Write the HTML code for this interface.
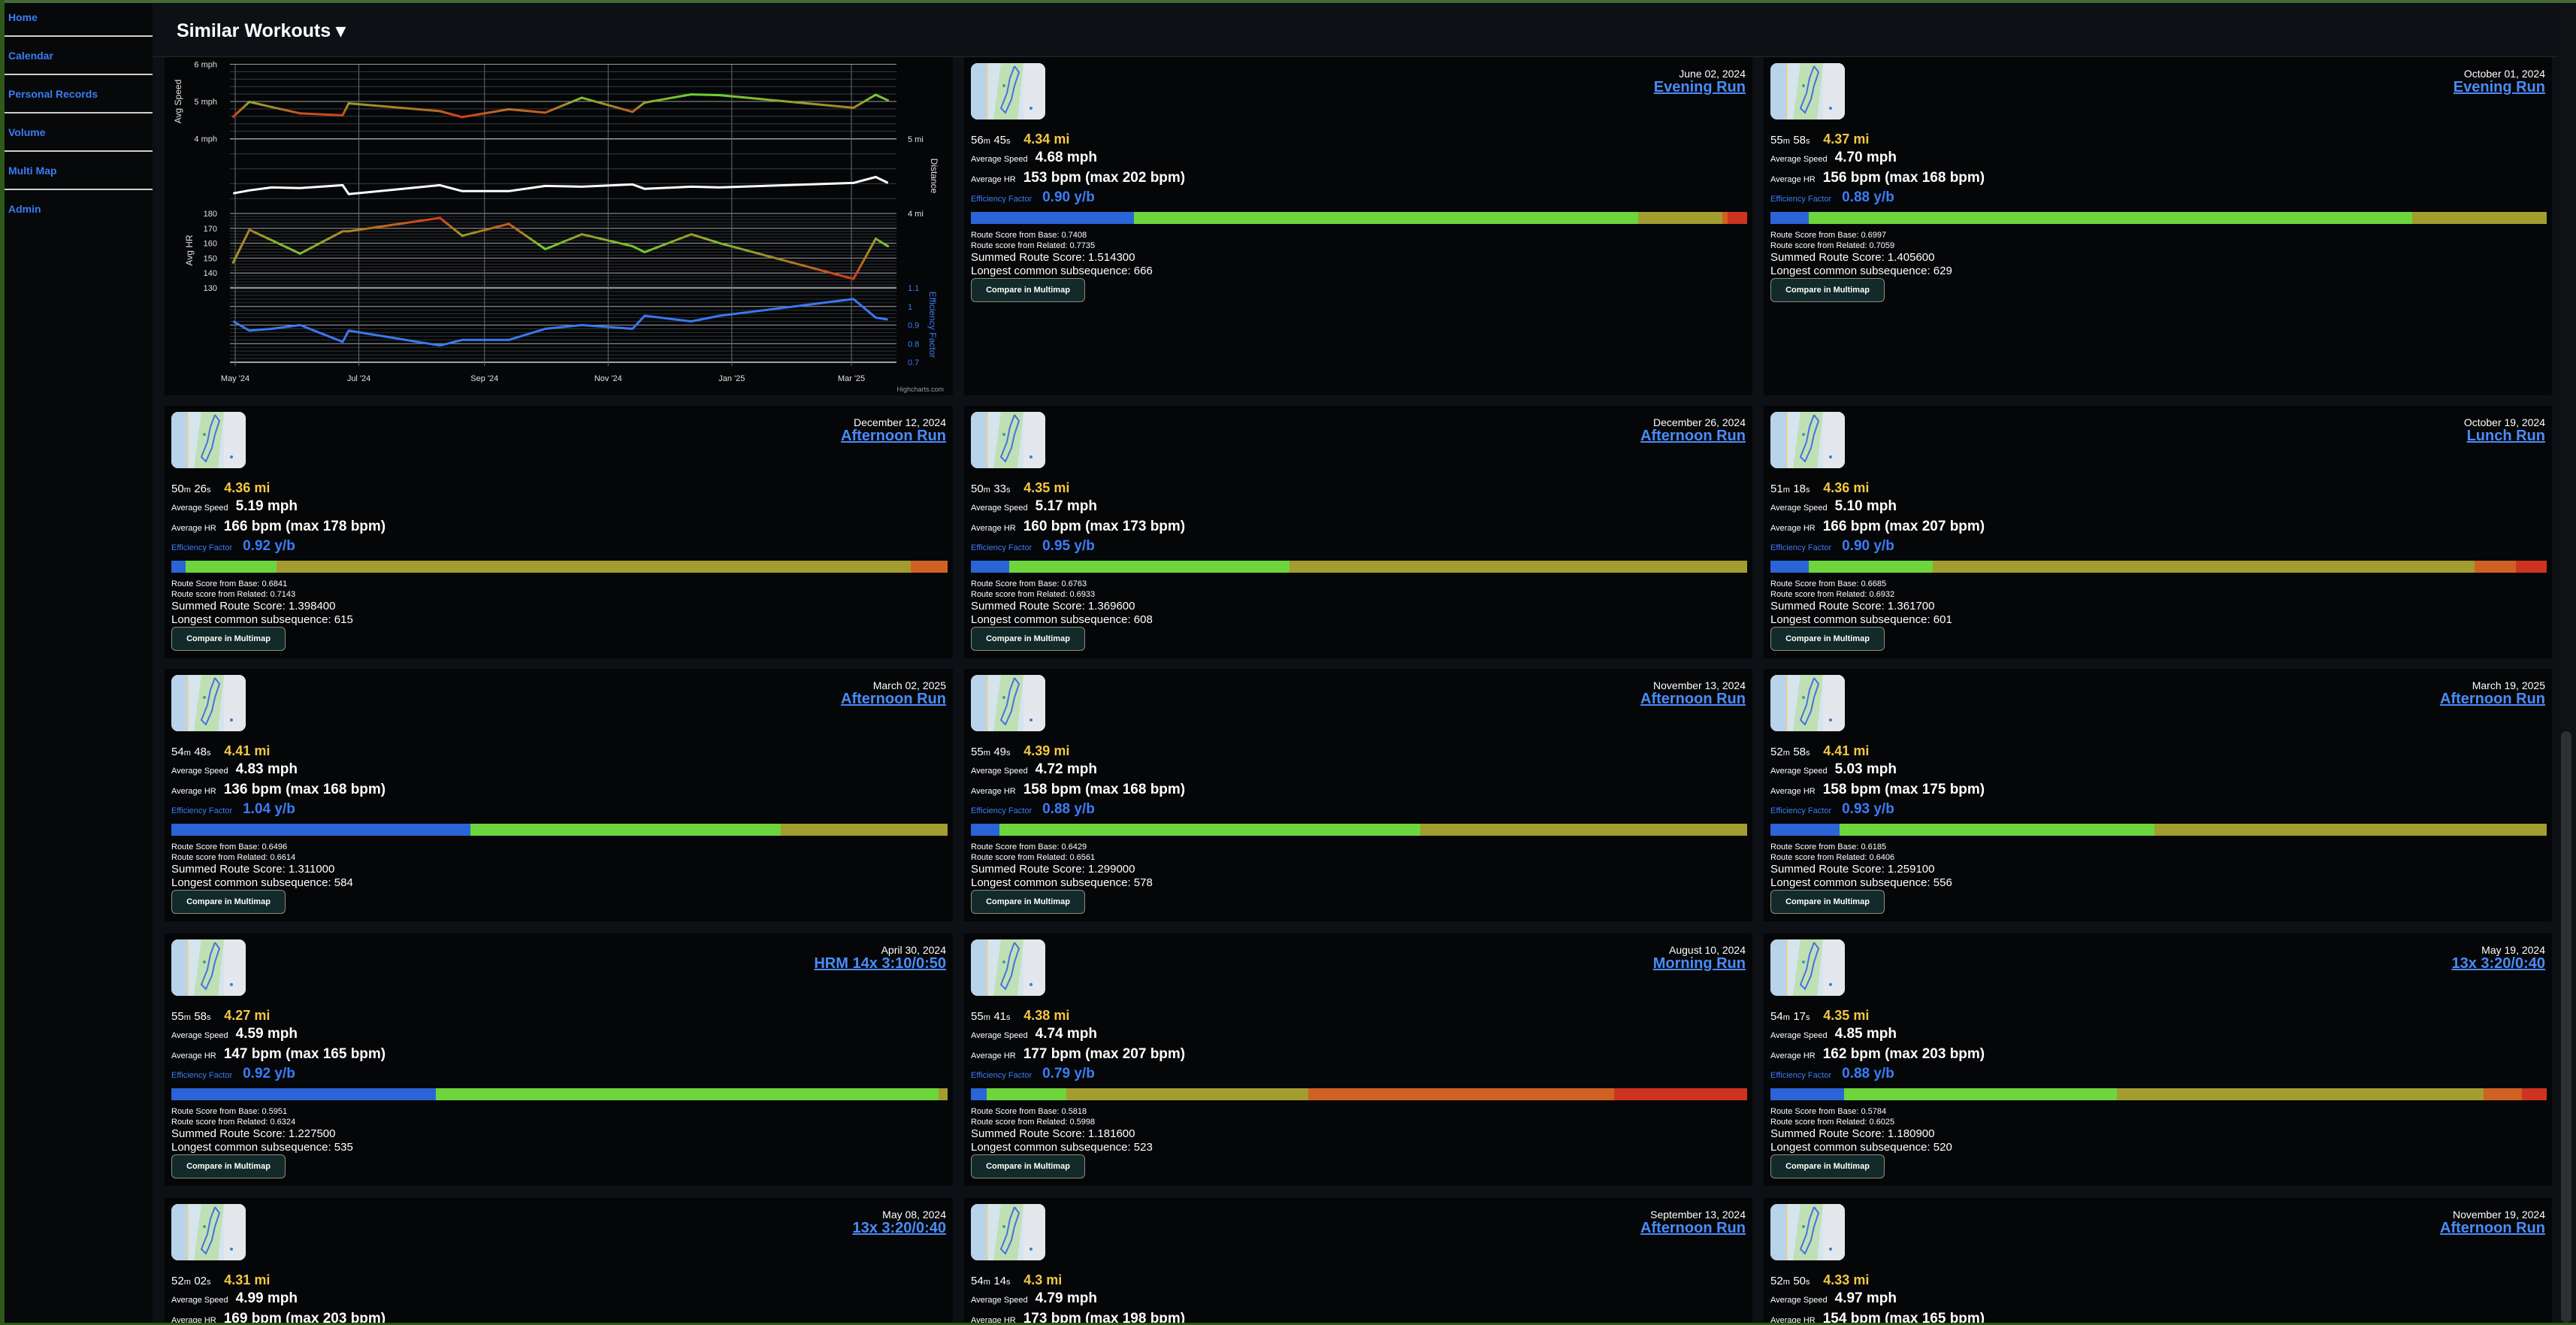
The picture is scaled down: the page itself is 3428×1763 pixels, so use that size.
<!DOCTYPE html>
<html style="width:3428px;height:1763px;overflow:hidden"><head><meta charset="utf-8">
<style>
*{box-sizing:border-box;margin:0;padding:0}
html,body{overflow:hidden}
body{width:3428px;height:1763px;overflow:hidden;background:#0d1014;font-family:"Liberation Sans",sans-serif;position:relative;color:#fff}
#frame-top{position:absolute;left:0;top:0;width:3428px;height:4px;background:#456a3a}
#frame-left{position:absolute;left:0;top:0;width:6px;height:1763px;background:#2d5a1a}
#frame-bottom{position:absolute;left:0;top:1760px;width:3428px;height:3px;background:#2d5a14}
#sidebar{position:absolute;left:6px;top:4px;width:197px;height:1756px;background:#070809}
.nav{position:absolute;left:5px;font-size:14px;font-weight:bold;color:#3b7cf5;text-decoration:none}
.sep{position:absolute;left:0;width:197px;height:2px;background:#cfcfcf}
#header{position:absolute;left:235px;top:26px;font-size:25px;font-weight:bold;color:#fff}
#header-line{position:absolute;left:203px;top:75px;width:3200px;height:1px;background:#24282c}
.card{position:absolute;background:#050608;overflow:hidden}
.thumb{position:absolute;left:9px;top:8px;width:99px;height:75px;border-radius:9px;overflow:hidden}
.date{position:absolute;right:9px;top:14px;font-size:14px;color:#fff}
.title{position:absolute;right:9px;top:29px;font-size:20px;font-weight:bold;color:#4a8cf7;text-decoration:underline}
.row{position:absolute;left:9px;white-space:nowrap}
.lbl{font-size:11px;color:#fff;margin-right:10px}
.val{font-size:19px;font-weight:bold;color:#fff}
.bar{position:absolute;left:9px;right:7px;top:206px;height:16px;display:flex}
.bar div{height:16px}
.small{position:absolute;left:9px;font-size:11px;color:#fff}
.mid{position:absolute;left:9px;font-size:15px;color:#fff}
.btn{position:absolute;left:9px;top:294px;width:152px;height:32px;background:#132a2a;border:1px solid #8a8a80;border-radius:6px;font-size:11px;font-weight:bold;color:#fff;display:flex;align-items:center;justify-content:center}
.clip{position:absolute;left:9px;top:150px;width:600px;height:16px;overflow:hidden}
#scroll-track{position:absolute;left:3404px;top:4px;width:24px;height:1756px;background:#0f1113}
#scroll-thumb{position:absolute;left:3408px;top:973px;width:14px;height:787px;background:#2c2f33;border-radius:7px}
</style></head>
<body>
<div id="frame-top"></div>
<div id="frame-left"></div>
<div id="sidebar">
  <a class="nav" style="top:11px">Home</a>
  <div class="sep" style="top:43px"></div>
  <a class="nav" style="top:62px">Calendar</a>
  <div class="sep" style="top:94px"></div>
  <a class="nav" style="top:113px">Personal Records</a>
  <div class="sep" style="top:145px"></div>
  <a class="nav" style="top:164px">Volume</a>
  <div class="sep" style="top:196px"></div>
  <a class="nav" style="top:215px">Multi Map</a>
  <div class="sep" style="top:247px"></div>
  <a class="nav" style="top:266px">Admin</a>
</div>
<div id="header">Similar Workouts ▾</div>
<div id="header-line"></div>

<div class="card" id="chart-card" style="left:219px;top:76px;width:1049px;height:450px">
<svg id="chart" width="1049" height="450" xmlns="http://www.w3.org/2000/svg"><g id="cg" transform="translate(-219,-76)"></g></svg>
</div>

<div id="cards"></div>
<div id="scroll-track"></div>
<div id="scroll-thumb"></div>
<div id="frame-bottom"></div>

<script>
// ---- chart data ----
const dates = ['2024-04-30','2024-05-08','2024-05-19','2024-06-02','2024-06-23','2024-06-26','2024-08-10','2024-08-21','2024-09-13','2024-10-01','2024-10-19','2024-11-13','2024-11-19','2024-12-12','2024-12-26','2025-03-02','2025-03-13','2025-03-19'];
const speedVals = [4.59,4.99,4.85,4.68,4.63,4.95,4.74,4.58,4.79,4.70,5.10,4.72,4.97,5.19,5.17,4.83,5.18,5.03];
const distVals = [4.27,4.31,4.35,4.34,4.38,4.26,4.38,4.30,4.30,4.37,4.36,4.39,4.33,4.36,4.35,4.41,4.49,4.41];
const hrVals = [147,169,162,153,168,168,177,165,173,156,166,158,154,166,160,136,163,158];
const efVals = [0.92,0.87,0.88,0.90,0.81,0.87,0.79,0.82,0.82,0.88,0.90,0.88,0.95,0.92,0.95,1.04,0.94,0.93];
const xTickDates = ['2024-05-01','2024-07-01','2024-09-01','2024-11-01','2025-01-01','2025-03-01'];
const xTickLabels = ["May '24","Jul '24","Sep '24","Nov '24","Jan '25","Mar '25"];
const speedTicks = [6,5,4];
const speedTickLabels = ['6 mph','5 mph','4 mph'];
const distTicks = [5,4];
const distTickLabels = ['5 mi','4 mi'];
const hrTicks = [180,170,160,150,140,130];
const efTicks = [1.1,1.0,0.9,0.8,0.7];
const efTickLabels = ['1.1','1','0.9','0.8','0.7'];

const NS='http://www.w3.org/2000/svg';
const g=document.getElementById('cg');
const T0=Date.UTC(2024,4,1), T1=Date.UTC(2025,2,1);
function ms(s){const p=s.split('-');return Date.UTC(+p[0],p[1]-1,+p[2]);}
function xS(s){return 313+(ms(s)-T0)/(T1-T0)*820;}
function ySp(v){return 135-(v-5)*49.5;}
function yDi(v){return 185-(v-5)*99;}
function yHr(v){return 284+(180-v)*1.98;}
function yEf(v){return 383+(1.1-v)*247.5;}
const PL=306, PR=1193;
function el(tag,attrs){const e=document.createElementNS(NS,tag);for(const k in attrs)e.setAttribute(k,attrs[k]);g.appendChild(e);return e;}
function hline(y,col,w){const l=el('line',{x1:PL,x2:PR,y1:y,y2:y,stroke:col,'stroke-width':w});

}
for(let v=6;v>4.01;v-=0.2)hline(ySp(v),'#3a3d40',1);
for(let v=5;v>4.01;v-=0.2)hline(yDi(v),'#3a3d40',1);
for(let v=180;v>130;v-=2)hline(yHr(v),'#303336',1);
for(let v=1.1;v>0.7;v-=0.02)hline(yEf(v),'#303336',1);
speedTicks.forEach(v=>hline(ySp(v),'#9a9da0',1));
distTicks.forEach(v=>hline(yDi(v),'#9a9da0',1));
hrTicks.forEach(v=>hline(yHr(v),'#9a9da0',1));
efTicks.forEach(v=>hline(yEf(v),'#9a9da0',1));
hline(yHr(130),'#8a8d90',2.5);
hline(yEf(0.7),'#cfd2d4',1.5);
xTickDates.forEach((d,i)=>{
  const x=xS(d);
  const l=el('line',{x1:x,x2:x,y1:86,y2:487,stroke:'#6a6d70','stroke-width':1});
  
  
  const t=el('text',{x:x,y:507,'font-size':11,fill:'#e0e0e0','text-anchor':'middle','font-family':'Liberation Sans, sans-serif'});
  t.textContent=xTickLabels[i];
  
  
});
function label(x,y,txt,anchor,col,name){const t=el('text',{x:x,y:y+4,'font-size':11,fill:col,'text-anchor':anchor,'font-family':'Liberation Sans, sans-serif'});t.textContent=txt;

}
speedTicks.forEach((v,i)=>label(289,ySp(v),speedTickLabels[i],'end','#e0e0e0','speed-tick-label'));
distTicks.forEach((v,i)=>label(1208,yDi(v),distTickLabels[i],'start','#e0e0e0','distance-tick-label'));
hrTicks.forEach(v=>label(289,yHr(v),String(v),'end','#e0e0e0','hr-tick-label'));
efTicks.forEach((v,i)=>label(1208,yEf(v),efTickLabels[i],'start','#3b7cf5','ef-tick-label'));
function title(x,y,rot,txt,col,name){const t=el('text',{x:0,y:0,'font-size':12,fill:col,'text-anchor':'middle',transform:`translate(${x},${y}) rotate(${rot})`,'font-family':'Liberation Sans, sans-serif'});t.textContent=txt;

}
title(241,135,-90,'Avg Speed','#e0e0e0','speed-axis-title');
title(256,333,-90,'Avg HR','#e0e0e0','hr-axis-title');
title(1239,234,90,'Distance','#e0e0e0','distance-axis-title');
title(1237,432,90,'Efficiency Factor','#3b7cf5','ef-axis-title');
const hc=el('text',{x:1256,y:521,'font-size':9,fill:'#999','text-anchor':'end','font-family':'Liberation Sans, sans-serif'});hc.textContent='Highcharts.com';


function mix(t){t=Math.max(0,Math.min(1,t));const a=[215,58,26],b=[160,150,40],c=[104,212,50];let r;
 if(t<0.5){const u=t*2;r=a.map((v,i)=>v+(b[i]-v)*u);}else{const u=(t-0.5)*2;r=b.map((v,i)=>v+(c[i]-v)*u);}
 return `rgb(${r.map(Math.round).join(',')})`;}
const defs=el('defs',{});
let gid=0;
function gradLine(vals,yf,cf,name){
  for(let i=0;i<vals.length-1;i++){
    const x1=xS(dates[i]),x2=xS(dates[i+1]),y1=yf(vals[i]),y2=yf(vals[i+1]);
    const id='gr'+(gid++);
    const lg=document.createElementNS(NS,'linearGradient');
    lg.setAttribute('id',id);lg.setAttribute('gradientUnits','userSpaceOnUse');
    lg.setAttribute('x1',x1);lg.setAttribute('y1',y1);lg.setAttribute('x2',x2);lg.setAttribute('y2',y2);
    const s1=document.createElementNS(NS,'stop');s1.setAttribute('offset','0');s1.setAttribute('stop-color',cf(vals[i]));
    const s2=document.createElementNS(NS,'stop');s2.setAttribute('offset','1');s2.setAttribute('stop-color',cf(vals[i+1]));
    lg.appendChild(s1);lg.appendChild(s2);defs.appendChild(lg);
    const l=el('line',{x1:x1,y1:y1,x2:x2,y2:y2,stroke:`url(#${id})`,'stroke-width':3,'stroke-linecap':'round'});
    
    
  }
}
function polyline(vals,yf,col,name){
  const pts=vals.map((v,i)=>xS(dates[i]).toFixed(1)+','+yf(v).toFixed(1)).join(' ');
  const p=el('polyline',{points:pts,fill:'none',stroke:col,'stroke-width':3,'stroke-linejoin':'round'});
  
  
}
gradLine(speedVals,ySp,v=>mix((v-4.6)/0.6),'speed-series-segment');
polyline(distVals,yDi,'#ffffff','distance-series');
gradLine(hrVals,yHr,v=>mix(1-Math.abs(v-156)/20),'hr-series-segment');
polyline(efVals,yEf,'#3a78f0','ef-series');

// ---- cards ----
const cards=[
{d:'June 02, 2024',t:'Evening Run',tm:['56','45'],mi:'4.34',sp:'4.68',hr:'153',mx:'202',ef:'0.90',bar:[21,65,10.8,0.7,2.5],b:'0.7408',r:'0.7735',s:'1.514300',l:'666'},
{d:'October 01, 2024',t:'Evening Run',tm:['55','58'],mi:'4.37',sp:'4.70',hr:'156',mx:'168',ef:'0.88',bar:[4.9,77.8,17.3,0,0],b:'0.6997',r:'0.7059',s:'1.405600',l:'629'},
{d:'December 12, 2024',t:'Afternoon Run',tm:['50','26'],mi:'4.36',sp:'5.19',hr:'166',mx:'178',ef:'0.92',bar:[1.8,11.8,81.7,4.7,0],b:'0.6841',r:'0.7143',s:'1.398400',l:'615'},
{d:'December 26, 2024',t:'Afternoon Run',tm:['50','33'],mi:'4.35',sp:'5.17',hr:'160',mx:'173',ef:'0.95',bar:[4.9,36.1,59,0,0],b:'0.6763',r:'0.6933',s:'1.369600',l:'608'},
{d:'October 19, 2024',t:'Lunch Run',tm:['51','18'],mi:'4.36',sp:'5.10',hr:'166',mx:'207',ef:'0.90',bar:[4.9,16,69.8,5.3,4],b:'0.6685',r:'0.6932',s:'1.361700',l:'601'},
{d:'March 02, 2025',t:'Afternoon Run',tm:['54','48'],mi:'4.41',sp:'4.83',hr:'136',mx:'168',ef:'1.04',bar:[38.5,40,21.5,0,0],b:'0.6496',r:'0.6614',s:'1.311000',l:'584'},
{d:'November 13, 2024',t:'Afternoon Run',tm:['55','49'],mi:'4.39',sp:'4.72',hr:'158',mx:'168',ef:'0.88',bar:[3.7,54.2,42.1,0,0],b:'0.6429',r:'0.6561',s:'1.299000',l:'578'},
{d:'March 19, 2025',t:'Afternoon Run',tm:['52','58'],mi:'4.41',sp:'5.03',hr:'158',mx:'175',ef:'0.93',bar:[8.9,40.6,50.5,0,0],b:'0.6185',r:'0.6406',s:'1.259100',l:'556'},
{d:'April 30, 2024',t:'HRM 14x 3:10/0:50',tm:['55','58'],mi:'4.27',sp:'4.59',hr:'147',mx:'165',ef:'0.92',bar:[34.1,64.7,1.2,0,0],b:'0.5951',r:'0.6324',s:'1.227500',l:'535'},
{d:'August 10, 2024',t:'Morning Run',tm:['55','41'],mi:'4.38',sp:'4.74',hr:'177',mx:'207',ef:'0.79',bar:[2,10.3,31.2,39.4,17.1],b:'0.5818',r:'0.5998',s:'1.181600',l:'523'},
{d:'May 19, 2024',t:'13x 3:20/0:40',tm:['54','17'],mi:'4.35',sp:'4.85',hr:'162',mx:'203',ef:'0.88',bar:[9.5,35.1,47.3,4.9,3.2],b:'0.5784',r:'0.6025',s:'1.180900',l:'520'},
{d:'May 08, 2024',t:'13x 3:20/0:40',tm:['52','02'],mi:'4.31',sp:'4.99',hr:'169',mx:'203'},
{d:'September 13, 2024',t:'Afternoon Run',tm:['54','14'],mi:'4.3',sp:'4.79',hr:'173',mx:'198'},
{d:'November 19, 2024',t:'Afternoon Run',tm:['52','50'],mi:'4.33',sp:'4.97',hr:'154',mx:'165'}
];
const barColors=['#2b64d6','#6cd63c','#a39c2e','#cf6222','#cc3420'];
const colX=[219,1283,2347], rowY=[76,540,890,1242,1594], rowH=[450,336,336,336,166];
const thumbSvg=`<svg width="99" height="75" xmlns="http://www.w3.org/2000/svg"><rect width="99" height="75" fill="#d6e4ee"/><rect x="0" y="0" width="22" height="75" fill="#b9d3ea"/><polygon points="40,0 70,0 62,75 30,75" fill="#bfe0b4"/><rect x="70" y="0" width="29" height="75" fill="#e4e7ec"/><polyline points="58,4 64,12 58,30 54,48 46,66 40,60 48,40 52,20 58,4" fill="none" stroke="#4a6fe0" stroke-width="2"/><line x1="22" y1="0" x2="22" y2="75" stroke="#f3d27a" stroke-width="1.5"/><circle cx="44" cy="30" r="2" fill="#3aa0a0"/><circle cx="80" cy="60" r="2" fill="#3a80d0"/></svg>`;
const host=document.getElementById('cards');
cards.forEach((c,i)=>{
  const slot=i+1, col=slot%3, row=Math.floor(slot/3);
  const last=(row===4);
  const card=document.createElement('div');
  card.className='card';
  
  
  card.style.left=colX[col]+'px';card.style.top=rowY[row]+'px';
  card.style.width='1049px';card.style.height=rowH[row]+'px';
  let html=`
  <div class="thumb">${thumbSvg}</div>
  <div class="date">${c.d}</div>
  <a class="title">${c.t}</a>
  <div class="row" style="top:99px"><span style="font-size:15px">${c.tm[0]}</span><span style="font-size:11px">m</span> <span style="font-size:15px">${c.tm[1]}</span><span style="font-size:11px">s</span>&nbsp;&nbsp;&nbsp; <span style="font-size:18px;font-weight:bold;color:#f5c842">${c.mi} mi</span></div>
  <div class="row" style="top:123px"><span class="lbl">Average Speed</span><span class="val">${c.sp} mph</span></div>`;
  if(last){
    html+=`<div class="clip"><div style="white-space:nowrap"><span class="lbl">Average HR</span><span class="val">${c.hr} bpm (max ${c.mx} bpm)</span></div></div>`;
  } else {
    const bars=c.bar.map((w,k)=>w>0?`<div style="width:${w}%;background:${barColors[k]}"></div>`:'').join('');
    html+=`
  <div class="row" style="top:150px"><span class="lbl">Average HR</span><span class="val">${c.hr} bpm (max ${c.mx} bpm)</span></div>
  <div class="row" style="top:176px"><span class="lbl" style="color:#3b7cf5;margin-right:14px">Efficiency Factor</span><span class="val" style="color:#3b7cf5">${c.ef} y/b</span></div>
  <div class="bar">${bars}</div>
  <div class="small" style="top:231px">Route Score from Base: ${c.b}</div>
  <div class="small" style="top:245px">Route score from Related: ${c.r}</div>
  <div class="mid" style="top:258px">Summed Route Score: ${c.s}</div>
  <div class="mid" style="top:276px">Longest common subsequence: ${c.l}</div>
  <div class="btn">Compare in Multimap</div>`;
  }
  card.innerHTML=html;
  host.appendChild(card);
});
</script>
</body></html>
